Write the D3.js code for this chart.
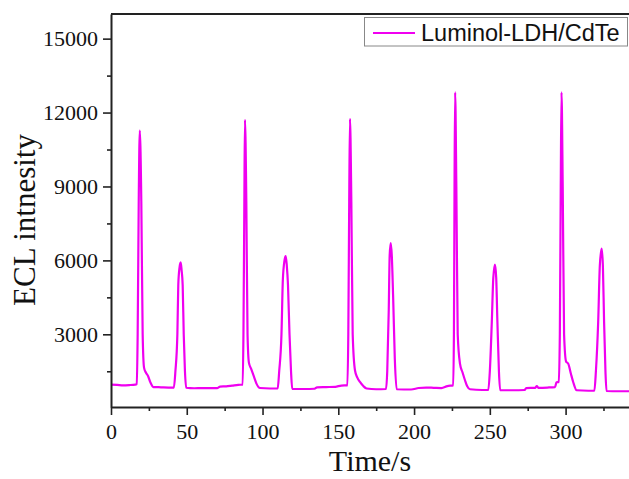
<!DOCTYPE html>
<html>
<head>
<meta charset="utf-8">
<script src="https://cdn.jsdelivr.net/npm/d3@7"></script>
<style>
  body { margin: 0; background: #fff; }
  svg { display: block; }
</style>
</head>
<body>
<div id="chart"></div>
<script>
// ECL intensity trace (time in s, intensity in a.u.)
var timeS = [0, 4, 8, 12, 16, 17, 17.6, 18.3, 19, 20, 20.9, 21.8, 23, 24.5, 26, 28, 33, 38,
  41.5, 42.5, 43.8, 44.4, 45.2, 46, 46.6, 47.3, 48, 48.8, 49.6, 55, 60, 65, 70, 72, 76, 80, 84,
  86.9, 87.4, 88, 88.4, 89.3, 90.1, 91, 92.5, 94.4, 96, 98.3, 105,
  110, 111, 112.5, 113.4, 114.5, 115.3, 116, 116.8, 117.8, 118.8, 119.6, 128, 134, 136, 142, 148, 152,
  156, 156.6, 157.2, 157.7, 158.6, 159.5, 161, 162.5, 164.3, 166.5, 168.7, 175,
  181.5, 182.3, 183.3, 183.9, 184.6, 185.3, 186.2, 187.3, 188.5, 198, 203, 208, 213, 218, 222,
  225.8, 226.3, 226.7, 227.1, 227.9, 228.8, 230.3, 232, 233.6, 235, 236.9, 245,
  249, 250, 251.3, 252.3, 253.4, 254.2, 255, 256, 256.8, 265, 273, 274, 280, 281, 282, 288, 293, 294,
  295.5, 296.2, 296.8, 297.3, 298.1, 299, 300.3, 301.8, 303.5, 305, 307.3, 315,
  319, 320, 321.5, 322.6, 323.8, 324.6, 325.4, 326.3, 327, 335, 342.5];

var eclIntensity = [960, 950, 930, 940, 960, 980, 3000, 8400, 11270, 8400, 3000, 1650, 1450, 1300, 1050, 860, 850, 840,
  840, 1500, 3000, 5000, 5700, 5920, 5600, 5000, 3000, 1500, 830, 810, 820, 815, 820, 880, 890, 920, 950,
  960, 3000, 8400, 11700, 8400, 3000, 1850, 1600, 1270, 1000, 820, 800,
  800, 1500, 3000, 5200, 6000, 6175, 5800, 5000, 3000, 1500, 780, 780, 790, 850, 860, 870, 920,
  930, 3000, 8400, 11745, 8400, 3000, 1540, 1250, 1066, 900, 800, 770,
  780, 1500, 4000, 6200, 6700, 6200, 4500, 2000, 770, 760, 820, 840, 830, 820, 900,
  930, 3000, 9000, 12820, 9000, 3000, 1810, 1450, 1135, 900, 770, 740,
  740, 1500, 3500, 5300, 5826, 5300, 3500, 1500, 730, 730, 740, 820, 830, 900, 830, 840, 860, 1050,
  1070, 3000, 9000, 12820, 9000, 3000, 1900, 1800, 1400, 1066, 730, 710,
  710, 1500, 3500, 5800, 6474, 5800, 3500, 1500, 700, 690, 690];

var xTicks = [0, 50, 100, 150, 200, 250, 300];
var xMinorTicks = [25, 75, 125, 175, 225, 275, 325];
var yTicks = [3000, 6000, 9000, 12000, 15000];
var yMinorTicks = [1500, 4500, 7500, 10500, 13500];
var seriesName = "Luminol-LDH/CdTe";

function init() {
  var width = 629, height = 479;
  var margin = {top: 14, left: 111, right: -1, bottom: 72};  // right edge sits just outside the picture

  var svg = d3.select("#chart")
    .append("svg")
    .attr("width", width)
    .attr("height", height);

  var x0 = margin.left, x1 = width - margin.right;
  var y0 = height - margin.bottom, y1 = margin.top;

  var xScale = d3.scaleLinear().domain([0, 342.5]).range([x0, x1]);
  var yScale = d3.scaleLinear().domain([50, 16000]).range([y0, y1]);

  var serif = "'Liberation Serif', 'Times New Roman', serif";

  var data = timeS.map(function(t, i) { return {t: t, v: eclIntensity[i]}; });

  var line = d3.line()
    .x(function(d) { return xScale(d.t); })
    .y(function(d) { return yScale(d.v); })
    .curve(d3.curveMonotoneX);

  svg.append("path")
    .datum(data)
    .attr("d", line)
    .style("fill", "none")
    .style("stroke", "#f000f0")
    .style("stroke-width", 2.2)
    .style("stroke-linejoin", "round");

  // top frame line
  svg.append("line")
    .attr("x1", x0).attr("x2", x1)
    .attr("y1", y1).attr("y2", y1)
    .style("stroke", "#222")
    .style("stroke-width", 2);

  // minor ticks
  svg.append("g")
    .attr("transform", "translate(0," + y0 + ")")
    .call(d3.axisBottom(xScale).tickValues(xMinorTicks).tickSize(4).tickFormat(""))
    .call(function(g) { g.select(".domain").remove(); });

  svg.append("g")
    .attr("transform", "translate(" + x0 + ",0)")
    .call(d3.axisLeft(yScale).tickValues(yMinorTicks).tickSize(4).tickFormat(""))
    .call(function(g) { g.select(".domain").remove(); });

  svg.append("g")
    .attr("transform", "translate(0," + y0 + ")")
    .call(d3.axisBottom(xScale).tickValues(xTicks).tickFormat(d3.format("d"))
      .tickSize(8).tickSizeOuter(0).tickPadding(8));

  svg.append("g")
    .attr("transform", "translate(" + x0 + ",0)")
    .call(d3.axisLeft(yScale).tickValues(yTicks).tickFormat(d3.format("d"))
      .tickSize(8).tickSizeOuter(0).tickPadding(5));

  svg.selectAll(".tick line").style("stroke", "#222").style("stroke-width", 1.6);
  svg.selectAll(".domain").style("stroke", "#222").style("stroke-width", 2);
  svg.selectAll(".tick text")
    .style("font-family", serif)
    .style("font-size", "22px")
    .style("fill", "#111");

  // axis titles
  svg.append("text")
    .attr("x", 370)
    .attr("y", 471)
    .attr("text-anchor", "middle")
    .style("font-family", serif)
    .style("font-size", "30px")
    .style("fill", "#111")
    .text("Time/s");

  svg.append("text")
    .attr("transform", "translate(35,220) rotate(-90)")
    .attr("text-anchor", "middle")
    .style("font-family", serif)
    .style("font-size", "31px")
    .style("fill", "#111")
    .text("ECL intnesity");

  // legend
  var legend = svg.append("g");
  legend.append("rect")
    .attr("x", 364.5).attr("y", 17.5)
    .attr("width", 263).attr("height", 28.5)
    .style("fill", "#fff")
    .style("stroke", "#888")
    .style("stroke-width", 1);

  legend.append("line")
    .attr("x1", 373).attr("x2", 415)
    .attr("y1", 33).attr("y2", 33)
    .style("stroke", "#f000f0")
    .style("stroke-width", 2.2);

  legend.append("text")
    .attr("x", 421)
    .attr("y", 40.5)
    .style("font-family", "'Liberation Sans', Arial, sans-serif")
    .style("font-size", "23.5px")
    .style("fill", "#111")
    .text(seriesName);
}

window.onload = init;
</script>
</body>
</html>
